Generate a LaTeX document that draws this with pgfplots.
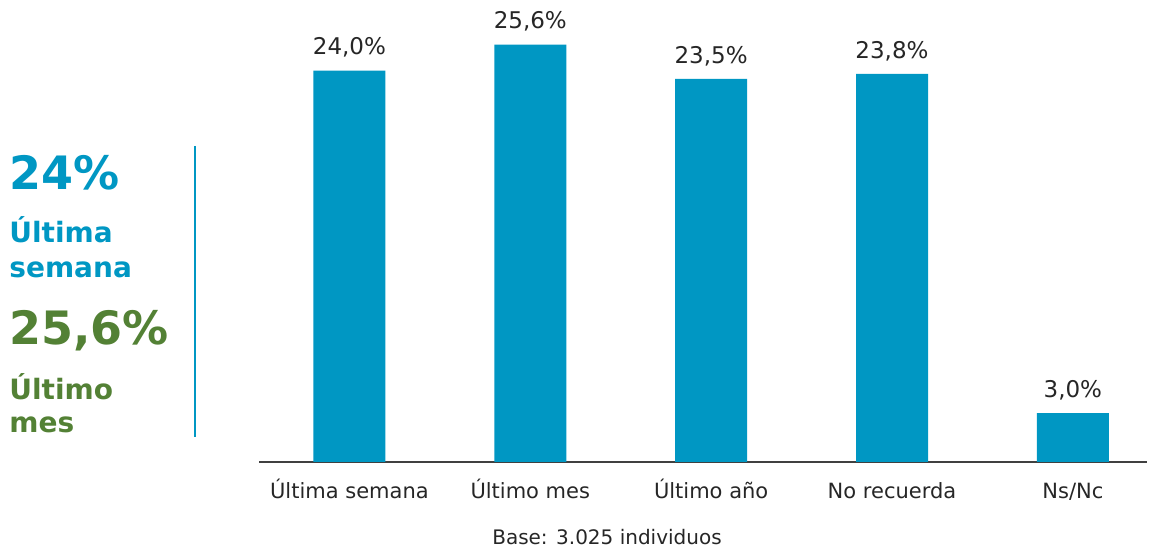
\documentclass[border=0pt]{standalone}
\usepackage{pgfplots}
\pgfplotsset{compat=1.18}
\usepackage{fontspec}
\setmainfont{DejaVu Sans}
\definecolor{barblue}{HTML}{0097C3}
\definecolor{leftgreen}{HTML}{538135}
\definecolor{txt}{HTML}{262626}
\begin{document}
\begin{tikzpicture}
\path (0,0) rectangle (577.5pt,274.5pt);
\begin{axis}[
  at={(129.5pt,43.5pt)}, anchor=south west,
  scale only axis, width=444pt, height=231pt,
  xmin=-0.5, xmax=4.41, ymin=0, ymax=28.34,
  axis x line*=bottom, axis y line=none,
  x axis line style={draw=black!75, line width=0.8pt},
  xtick=data,
  xticklabels={Última semana, Último mes, Último año, No recuerda, Ns/Nc},
  major tick length=0pt,
  xticklabel style={font=\fontsize{10.5}{12}\selectfont, text=txt, anchor=base, yshift=-18.5pt},
  /pgf/number format/assume math mode=true,
  ybar, bar width=36pt,
  nodes near coords={\pgfmathprintnumber[fixed,fixed zerofill,precision=1,use comma,assume math mode=true]{\pgfplotspointmeta}\%},
  every node near coord/.append style={font=\fontsize{11.5}{13}\selectfont, text=txt, yshift=3pt},
]
\addplot[fill=barblue, draw=none] coordinates {(0,24.0) (1,25.6) (2,23.5) (3,23.8) (4,3.0)};
\end{axis}
\begin{scope}[shift={(0pt,274.5pt)}, x=0.5pt, y=-0.5pt]
  \draw[barblue, line width=1pt] (195,146) -- (195,437);
  \node[anchor=base west, inner sep=0pt, text=barblue, font=\bfseries\fontsize{23}{26}\selectfont] at (9,190) {24\%};
  \node[anchor=base west, inner sep=0pt, text=barblue, font=\bfseries\fontsize{14}{17}\selectfont] at (9,243) {Última};
  \node[anchor=base west, inner sep=0pt, text=barblue, font=\bfseries\fontsize{14}{17}\selectfont] at (9,278) {semana};
  \node[anchor=base west, inner sep=0pt, text=leftgreen, font=\bfseries\fontsize{23}{26}\selectfont] at (9,345) {25,6\%};
  \node[anchor=base west, inner sep=0pt, text=leftgreen, font=\bfseries\fontsize{14}{17}\selectfont] at (9,400) {Último};
  \node[anchor=base west, inner sep=0pt, text=leftgreen, font=\bfseries\fontsize{14}{17}\selectfont] at (9,433) {mes};
  \node[anchor=base, inner sep=0pt, text=txt, font=\fontsize{10}{12}\selectfont] at (607,545) {Base: 3.025 individuos};
\end{scope}
\end{tikzpicture}
\end{document}
